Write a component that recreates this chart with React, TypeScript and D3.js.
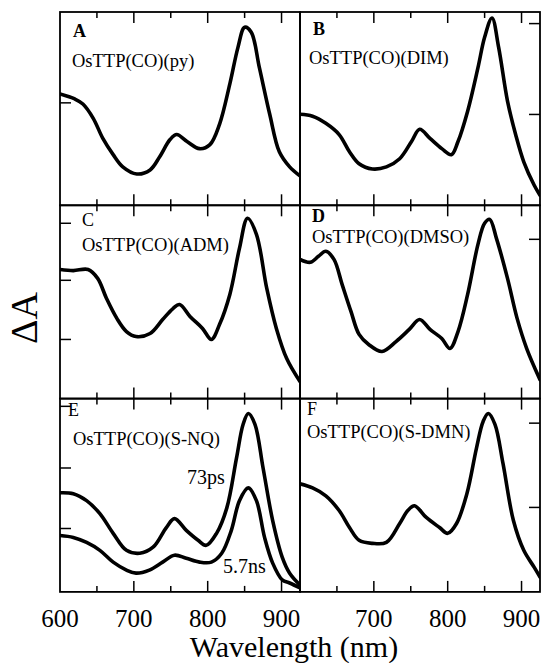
import React from "react";
import * as d3 from "d3";

// ---- data (ΔA, arbitrary units per panel, 0..1 of the panel range) ----
const wlA = [600, 620, 631, 645, 658, 672, 685, 704, 722, 735, 749, 758, 772, 789, 803, 816, 830, 841, 850, 859, 870, 884, 897, 911, 925];
const dA = [0.576, 0.55, 0.524, 0.45, 0.346, 0.262, 0.199, 0.162, 0.183, 0.251, 0.34, 0.366, 0.33, 0.293, 0.314, 0.419, 0.628, 0.817, 0.921, 0.895, 0.712, 0.471, 0.277, 0.199, 0.152];

const wlB = [600, 617, 635, 653, 667, 680, 698, 717, 735, 751, 762, 776, 792, 805, 814, 827, 841, 850, 860, 869, 881, 892, 903, 917, 925];
const dB = [0.471, 0.461, 0.424, 0.366, 0.277, 0.215, 0.188, 0.199, 0.241, 0.33, 0.393, 0.346, 0.293, 0.262, 0.33, 0.487, 0.712, 0.869, 0.969, 0.817, 0.539, 0.366, 0.225, 0.105, 0.052];

const wlC = [600, 618, 638, 651, 663, 677, 690, 703, 722, 739, 753, 762, 776, 793, 805, 816, 830, 843, 854, 866, 880, 893, 907, 925];
const dC = [0.668, 0.662, 0.668, 0.622, 0.518, 0.415, 0.347, 0.321, 0.337, 0.409, 0.466, 0.487, 0.425, 0.363, 0.306, 0.383, 0.539, 0.777, 0.933, 0.85, 0.57, 0.363, 0.207, 0.088];

const wlD = [600, 614, 625, 635, 646, 657, 669, 680, 693, 711, 730, 748, 762, 776, 792, 803, 814, 827, 841, 850, 857, 866, 881, 894, 907, 925];
const dD = [0.72, 0.705, 0.736, 0.762, 0.72, 0.591, 0.451, 0.332, 0.28, 0.244, 0.295, 0.358, 0.409, 0.358, 0.311, 0.259, 0.347, 0.539, 0.798, 0.907, 0.927, 0.829, 0.622, 0.415, 0.259, 0.098];

const wlE1 = [600, 618, 636, 654, 672, 690, 708, 726, 744, 755, 771, 787, 798, 812, 826, 839, 848, 855, 864, 875, 888, 901, 911, 925];
const dE1 = [0.513, 0.508, 0.472, 0.405, 0.303, 0.215, 0.2, 0.231, 0.333, 0.379, 0.318, 0.267, 0.241, 0.303, 0.436, 0.692, 0.867, 0.923, 0.867, 0.641, 0.369, 0.179, 0.097, 0.036];

const wlE2 = [600, 618, 636, 654, 672, 690, 703, 721, 739, 755, 771, 789, 805, 819, 832, 843, 855, 866, 877, 888, 901, 911, 925];
const dE2 = [0.292, 0.282, 0.256, 0.215, 0.154, 0.113, 0.097, 0.113, 0.154, 0.19, 0.174, 0.154, 0.154, 0.2, 0.318, 0.472, 0.538, 0.472, 0.282, 0.149, 0.062, 0.046, 0.021];

const wlF = [600, 617, 635, 653, 667, 680, 698, 717, 735, 746, 755, 771, 789, 800, 812, 826, 839, 848, 855, 864, 875, 889, 903, 917, 925];
const dF = [0.559, 0.538, 0.497, 0.421, 0.333, 0.267, 0.251, 0.256, 0.354, 0.421, 0.446, 0.385, 0.333, 0.303, 0.354, 0.508, 0.744, 0.882, 0.923, 0.867, 0.662, 0.369, 0.215, 0.128, 0.077];

const panelLetters = ["A", "B", "C", "D", "E", "F"];
const compoundLabels = [
  "OsTTP(CO)(py)",
  "OsTTP(CO)(DIM)",
  "OsTTP(CO)(ADM)",
  "OsTTP(CO)(DMSO)",
  "OsTTP(CO)(S-NQ)",
  "OsTTP(CO)(S-DMN)",
];
const yTicksA = [0.53];
const yTicksB = [0.94, 0.47];
const yTicksC = [0.907, 0.612, 0.306];
const yTicksD = [0.824];
const yTicksE = [0.96, 0.641, 0.328];
const yTicksF = [0.873, 0.437];

const xMajorTicks = [700, 800, 900];
const xMinorTicks = [650, 750, 850];
const xTickLabelsLeft = [600, 700, 800, 900];
const xTickLabelsRight = [700, 800, 900];
const seriesLabelsE = ["73ps", "5.7ns"];

// ---- layout ----
const W = 544;
const H = 663;
const left = 60;
const colW = 240;
const top = 12;
const rowH = 193.3;
const FONT = "'Liberation Serif', 'Times New Roman', serif";

type Panel = {
  letter: string;
  label: string;
  col: number;
  row: number;
  series: { wl: number[]; v: number[] }[];
  yTicks: number[];
  letterPos: [number, number];
  letterBold: boolean;
  labelPos: [number, number];
};

const panels: Panel[] = [
  { letter: panelLetters[0], label: compoundLabels[0], col: 0, row: 0, series: [{ wl: wlA, v: dA }], yTicks: yTicksA, letterPos: [73, 37], letterBold: true, labelPos: [72, 67] },
  { letter: panelLetters[1], label: compoundLabels[1], col: 1, row: 0, series: [{ wl: wlB, v: dB }], yTicks: yTicksB, letterPos: [313, 35], letterBold: true, labelPos: [309, 64] },
  { letter: panelLetters[2], label: compoundLabels[2], col: 0, row: 1, series: [{ wl: wlC, v: dC }], yTicks: yTicksC, letterPos: [82, 226], letterBold: false, labelPos: [82, 251] },
  { letter: panelLetters[3], label: compoundLabels[3], col: 1, row: 1, series: [{ wl: wlD, v: dD }], yTicks: yTicksD, letterPos: [312, 222], letterBold: true, labelPos: [312, 243] },
  { letter: panelLetters[4], label: compoundLabels[4], col: 0, row: 2, series: [{ wl: wlE1, v: dE1 }, { wl: wlE2, v: dE2 }], yTicks: yTicksE, letterPos: [68, 416], letterBold: false, labelPos: [73, 445] },
  { letter: panelLetters[5], label: compoundLabels[5], col: 1, row: 2, series: [{ wl: wlF, v: dF }], yTicks: yTicksF, letterPos: [307, 415], letterBold: false, labelPos: [307, 438] },
];

function PanelView({ p }: { p: Panel }) {
  const x0 = left + p.col * colW;
  const y0 = top + p.row * rowH;
  const x = d3.scaleLinear().domain([600, 925]).range([x0, x0 + colW]);
  const y = d3.scaleLinear().domain([0, 1]).range([y0 + rowH, y0]);
  const line = d3
    .line<[number, number]>()
    .x((d) => x(d[0]))
    .y((d) => y(d[1]))
    .curve(d3.curveCatmullRom.alpha(0.5));
  const majLen = 11;
  const minLen = 6;
  const yTickLen = 11;
  const onLeft = p.col === 0;
  return (
    <g>
      <defs>
        <clipPath id={`clip-${p.letter}`}>
          <rect x={x0} y={y0} width={colW} height={rowH} />
        </clipPath>
      </defs>
      <g clipPath={`url(#clip-${p.letter})`}>
        {p.series.map((s, i) => (
          <path
            key={i}
            d={line(s.wl.map((w, j) => [w, s.v[j]] as [number, number])) || ""}
            fill="none"
            stroke="#000"
            strokeWidth={3.6}
            strokeLinejoin="round"
            strokeLinecap="round"
          />
        ))}
      </g>
      <rect x={x0} y={y0} width={colW} height={rowH} fill="none" stroke="#000" strokeWidth={1.8} />
      {xMajorTicks.map((t) => (
        <g key={`M${t}`}>
          <line x1={x(t)} x2={x(t)} y1={y0} y2={y0 + majLen} stroke="#000" strokeWidth={1.5} />
          <line x1={x(t)} x2={x(t)} y1={y0 + rowH} y2={y0 + rowH - majLen} stroke="#000" strokeWidth={1.5} />
        </g>
      ))}
      {xMinorTicks.map((t) => (
        <g key={`m${t}`}>
          <line x1={x(t)} x2={x(t)} y1={y0} y2={y0 + minLen} stroke="#000" strokeWidth={1.5} />
          <line x1={x(t)} x2={x(t)} y1={y0 + rowH} y2={y0 + rowH - minLen} stroke="#000" strokeWidth={1.5} />
        </g>
      ))}
      {p.yTicks.map((t, i) => (
        <line
          key={`y${i}`}
          x1={onLeft ? x0 : x0 + colW}
          x2={onLeft ? x0 + yTickLen : x0 + colW - yTickLen}
          y1={y(t)}
          y2={y(t)}
          stroke="#000"
          strokeWidth={1.5}
        />
      ))}
      <text x={p.letterPos[0]} y={p.letterPos[1]} fontSize={18} fontWeight={p.letterBold ? "bold" : "normal"} fontFamily={FONT}>
        {p.letter}
      </text>
      <text x={p.labelPos[0]} y={p.labelPos[1]} fontSize={18.5} fontFamily={FONT}>
        {p.label}
      </text>
    </g>
  );
}

export default function App() {
  const xl = d3.scaleLinear().domain([600, 925]).range([left, left + colW]);
  const xr = d3.scaleLinear().domain([600, 925]).range([left + colW, left + 2 * colW]);
  const bottom = top + 3 * rowH;
  return (
    <svg
      width={W}
      height={H}
      viewBox={`0 0 ${W} ${H}`}
      style={{ position: "absolute", left: 0, top: 0, background: "#fff" }}
    >
      <rect x={0} y={0} width={W} height={H} fill="#fff" />
      {panels.map((p) => (
        <PanelView key={p.letter} p={p} />
      ))}
      <text x={187} y={484} fontSize={20} fontFamily={FONT}>
        {seriesLabelsE[0]}
      </text>
      <text x={223} y={573} fontSize={20} fontFamily={FONT}>
        {seriesLabelsE[1]}
      </text>
      {xTickLabelsLeft.map((t) => (
        <text key={`l${t}`} x={xl(t)} y={bottom + 35} fontSize={25} textAnchor="middle" fontFamily={FONT}>
          {t}
        </text>
      ))}
      {xTickLabelsRight.map((t) => (
        <text key={`r${t}`} x={xr(t)} y={bottom + 35} fontSize={25} textAnchor="middle" fontFamily={FONT}>
          {t}
        </text>
      ))}
      <text x={294} y={657} fontSize={30} textAnchor="middle" fontFamily={FONT}>
        Wavelength (nm)
      </text>
      <text
        transform={`translate(37, 318) rotate(-90)`}
        fontSize={38}
        textAnchor="middle"
        fontFamily={FONT}
      >
        ΔA
      </text>
    </svg>
  );
}
